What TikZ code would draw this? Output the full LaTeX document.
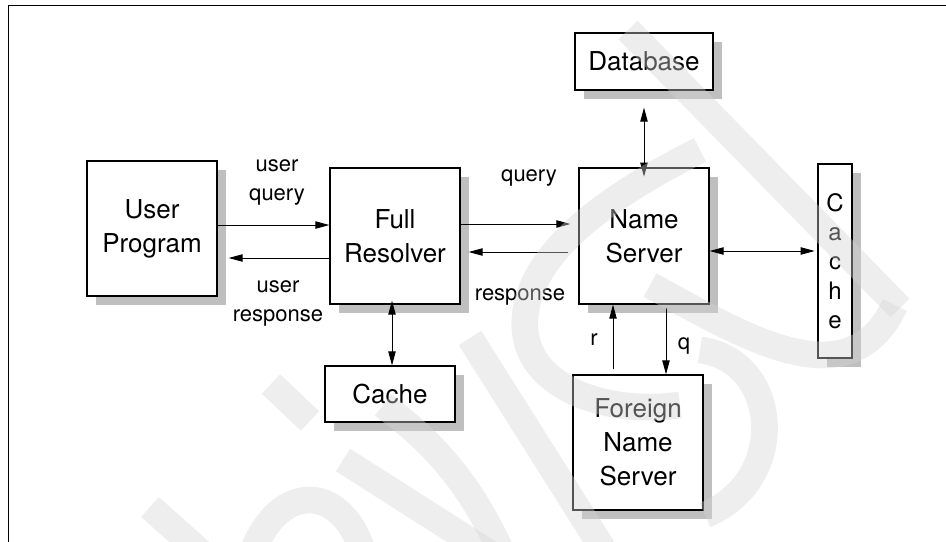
\documentclass[tikz,border=0pt]{standalone}
\usepackage{fontspec}
\setmainfont{TeX Gyre Heros}
\usetikzlibrary{arrows.meta,shadows}
\pgfdeclarelayer{edgelayer}
\pgfdeclarelayer{nodelayer}
\pgfdeclarelayer{stamplayer}
\pgfsetlayers{nodelayer,edgelayer,main,stamplayer}
\newcommand{\diagboxfont}{\fontsize{19.5}{25.5}\selectfont}
\newcommand{\diagstackfont}{\fontsize{18}{22}\selectfont}
\newcommand{\diagflowfont}{\fontsize{16.5}{21.75}\selectfont}
\tikzstyle{none}=[inner sep=0pt]
\tikzstyle{box}=[draw=black, line width=0.9pt, fill=white, inner sep=0pt, align=center, font=\diagboxfont, drop shadow={shadow xshift=6.75pt, shadow yshift=-6.75pt, fill=black!25, opacity=1}]
\tikzstyle{flowtext}=[inner sep=0pt, align=center, font=\diagflowfont]
\tikzstyle{flow}=[draw=black, line width=0.75pt, -{Triangle[length=10.5pt,width=5.5pt]}]
\tikzstyle{twoway}=[draw=black, line width=0.75pt, {Triangle[length=10.5pt,width=5.5pt]}-{Triangle[length=10.5pt,width=5.5pt]}]
\tikzstyle{stamp}=[line width=20pt, draw=black!17, opacity=0.4]

\begin{document}
\begin{tikzpicture}[x=0.75pt, y=-0.75pt]
			\useasboundingbox (0,0) rectangle (946,542);
			\draw [line width=0.75pt] (8,542) -- (8,6) -- (946,6);
			\begin{pgfonlayer}{nodelayer}
			\node [style=box, minimum width=97.5pt, minimum height=101.25pt] (0) at (152, 228.5) {User\\Program};
			\node [style=box, minimum width=97.5pt, minimum height=102pt] (1) at (395, 236) {Full\\Resolver};
			\node [style=box, minimum width=97.5pt, minimum height=102pt] (2) at (644, 236) {Name\\Server};
			\node [style=box, minimum width=103.5pt, minimum height=42.75pt] (3) at (644, 61.5) {Database};
			\node [style=box, minimum width=25.5pt, minimum height=145.5pt, font=\diagstackfont] (4) at (835, 261) {C\\a\\c\\h\\e};
			\node [style=box, minimum width=97.5pt, minimum height=42pt] (5) at (390, 394) {Cache};
			\node [style=box, minimum width=97.5pt, minimum height=101.25pt] (6) at (638, 442.5) {Foreign\\Name\\Server};
			\node [style=flowtext] (7) at (277, 182) {user\\query};
			\node [style=flowtext] (8) at (278, 303) {user\\response};
			\node [style=flowtext] (9) at (529, 178) {query};
			\node [style=flowtext] (10) at (520, 297) {response};
			\node [style=flowtext] (11) at (594, 340) {r};
			\node [style=flowtext] (12) at (684, 346) {q};
			\end{pgfonlayer}
			\begin{pgfonlayer}{edgelayer}
			\draw [style=flow] ([yshift=2.6pt]0.east) to ([yshift=2.6pt]0.east -| 1.west);
			\draw [style=flow] ([yshift=-16.5pt]1.west) to ([yshift=-16.5pt, xshift=8.25pt]1.west -| 0.east);
			\draw [style=flow] ([yshift=9pt]1.east) to ([yshift=9pt, xshift=-6pt]1.east -| 2.west);
			\draw [style=flow] ([yshift=-12pt, xshift=-7.5pt]2.west) to ([yshift=-12pt, xshift=6pt]2.west -| 1.east);
			\draw [style=twoway] ([yshift=-12.75pt]3.south) to ([yshift=-7pt]2.north);
			\draw [style=twoway] ([yshift=-11.25pt]2.east) to ([yshift=-11.25pt, xshift=-2pt]2.east -| 4.west);
			\draw [style=twoway] ([xshift=-2.25pt, yshift=3pt]1.south) to ([xshift=-2.25pt]1.south |- 5.north);
			\draw [style=flow] ([xshift=-18.75pt, yshift=3.75pt]6.north) to ([xshift=-18.75pt]6.north |- 2.south);
			\draw [style=flow] ([xshift=21pt, yshift=-2.25pt]6.north |- 2.south) to ([xshift=21pt]6.north);
			\end{pgfonlayer}
			\begin{pgfonlayer}{stamplayer}
			\clip (8,6) rectangle (946,542);
			\draw [style=stamp] (628,30) -- (900,308);
			\draw [style=stamp] (271,384) -- (310,421);
			\draw [style=stamp] (150,507) -- (215,565);
			\draw [style=stamp] (343,460) -- (500,560);
			\draw [style=stamp] (383,405) .. controls (430,440) and (470,480) .. (505,560);
			\draw [style=stamp] (470,338) -- (610,560);
			\draw [style=stamp] (250,560) .. controls (275,480) and (345,480) .. (365,560);
			\draw [style=stamp] (700,150) .. controls (600,200) and (520,260) .. (525,330) .. controls (530,390) and (610,415) .. (680,405);
			\draw [style=stamp] (700,350) .. controls (780,360) and (790,480) .. (705,515);
			\draw [style=stamp] (650,285) .. controls (750,340) and (850,400) .. (895,305);
			\end{pgfonlayer}
\end{tikzpicture}
\end{document}
